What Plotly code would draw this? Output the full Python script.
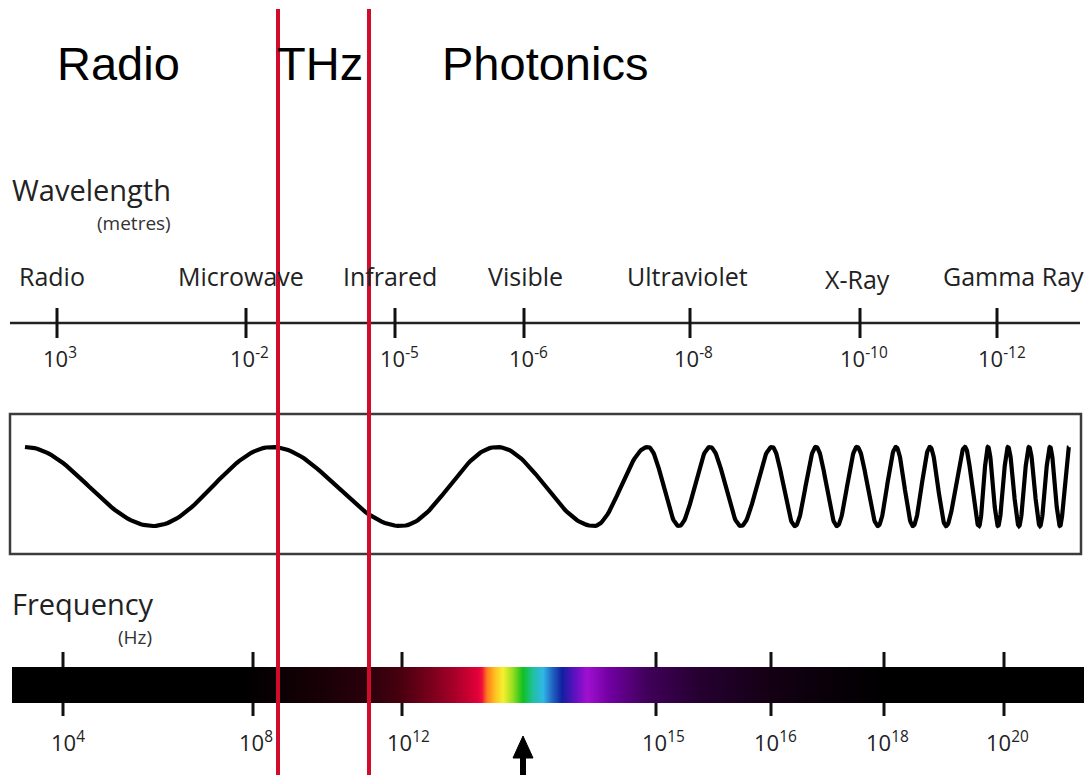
import numpy as np
import plotly.graph_objects as go

# ---------------- data ----------------
region_labels = ["Radio", "THz", "Photonics"]
band_names = ["Radio", "Microwave", "Infrared", "Visible", "Ultraviolet", "X-Ray", "Gamma Ray"]
wavelength_exponents = ["3", "-2", "-5", "-6", "-8", "-10", "-12"]
frequency_exponents = ["4", "8", "12", "15", "16", "18", "20"]

# ---------------- layout positions (pixel space) ----------------
W, H = 1084, 775
region_label_x = [118, 320, 545]
region_label_y = 63
thz_bounds_x = [278, 369]

band_label_x = [52, 241, 390, 525, 687, 857, 1013]
band_label_y = [276, 276, 276, 276, 276, 279, 276]
wl_tick_x = [57, 246, 395, 524, 690, 860, 997]
wl_label_x = [60, 249, 399, 528, 693, 864, 1002]
wl_axis_y = 323

fq_tick_x = [63, 253, 402, 656, 771, 884, 1004]
fq_label_x = [68, 256, 408, 663, 775, 887, 1007]
bar_y0, bar_y1 = 667, 703

# wave illustration: x of successive crests/troughs (starting with a crest)
wave_extrema_x = [25, 153, 272, 401, 497, 594, 648, 679, 710, 741, 772, 795, 816, 837,
                  857, 878, 896, 913, 930, 946, 965, 979, 988, 998, 1008, 1019, 1029,
                  1040, 1050, 1060, 1069]
wave_top, wave_bottom = 447, 526

# spectrum colour stops (pixel x, colour)
spectrum_stops = [
    (12, "#000000"), (245, "#000000"), (275, "#0a0003"), (320, "#170006"),
    (367, "#2a000c"), (401, "#48000f"), (430, "#78001c"), (455, "#a80028"),
    (478, "#e2003a"), (482, "#f0103a"), (487, "#ff7a1c"), (495, "#ffc020"),
    (503, "#f6f030"), (512, "#a0e020"), (523, "#10c020"), (533, "#20c0a0"),
    (543, "#30b8e8"), (553, "#2060c0"), (562, "#1020a0"), (575, "#6010c0"),
    (587, "#a010d0"), (610, "#7000a0"), (647, "#40005a"), (700, "#250030"),
    (770, "#140014"), (850, "#050005"), (887, "#000000"), (1084, "#000000"),
]

fig = go.Figure()

# ---- spectrum bar (heatmap gradient) ----
x0s, x1s = spectrum_stops[0][0], spectrum_stops[-1][0]
colorscale = [[(p - x0s) / (x1s - x0s), c] for p, c in spectrum_stops]
xc = np.arange(x0s + 0.5, x1s, 1.0)
fig.add_trace(go.Heatmap(
    x=xc, y=[bar_y0, bar_y1], z=[xc], colorscale=colorscale,
    zmin=x0s, zmax=x1s, showscale=False, hoverinfo="skip", zsmooth=False,
))

# ---- wave ----
wx, wy = [], []
mid = (wave_top + wave_bottom) / 2
amp = (wave_bottom - wave_top) / 2
for i in range(len(wave_extrema_x) - 1):
    a, b = wave_extrema_x[i], wave_extrema_x[i + 1]
    t = np.linspace(0, 1, 40, endpoint=False)
    c = np.cos(np.pi * t)
    wx.extend(a + (b - a) * t)
    if i % 2 == 0:   # crest -> trough
        wy.extend(mid - amp * c)
    else:            # trough -> crest
        wy.extend(mid + amp * c)
wx.append(wave_extrema_x[-1])
wy.append(wave_top if (len(wave_extrema_x) - 1) % 2 == 0 else wave_bottom)
fig.add_trace(go.Scatter(x=wx, y=wy, mode="lines",
                         line=dict(color="black", width=4.2, shape="linear"),
                         hoverinfo="skip", showlegend=False))

shapes = []
# wave box
shapes.append(dict(type="rect", x0=10, x1=1081, y0=414, y1=554,
                   line=dict(color="#3c3c3c", width=2.5), layer="below"))
# wavelength axis
shapes.append(dict(type="line", x0=10, x1=1080, y0=wl_axis_y, y1=wl_axis_y,
                   line=dict(color="#222222", width=2.5)))
for x in wl_tick_x:
    shapes.append(dict(type="line", x0=x, x1=x, y0=wl_axis_y - 15, y1=wl_axis_y + 15,
                       line=dict(color="#111111", width=3)))
# frequency ticks
for x in fq_tick_x:
    shapes.append(dict(type="line", x0=x, x1=x, y0=652, y1=716,
                       line=dict(color="#111111", width=3), layer="below"))
# arrow
shapes.append(dict(type="line", x0=523, x1=523, y0=752, y1=776,
                   line=dict(color="black", width=6)))
shapes.append(dict(type="path", path="M 513,758 L 523,736 L 533,758 Z",
                   fillcolor="black", line=dict(color="black", width=1)))
# THz boundary lines
for x in thz_bounds_x:
    shapes.append(dict(type="line", x0=x, x1=x, y0=9, y1=780,
                       line=dict(color="#d10b2b", width=4), layer="above"))

ann = []
for lbl, x in zip(region_labels, region_label_x):
    ann.append(dict(x=x, y=region_label_y, text=lbl, showarrow=False,
                    font=dict(family="Liberation Sans, Arial", size=47, color="black"),
                    xanchor="center", yanchor="middle"))

myriad = "Open Sans, Noto Sans, sans-serif"
ann.append(dict(x=10, y=189, text="Wavelength", showarrow=False, xanchor="left",
                yanchor="middle", font=dict(family=myriad, size=29, color="#222")))
ann.append(dict(x=173, y=223, text="(metres)", showarrow=False, xanchor="right",
                yanchor="middle", font=dict(family=myriad, size=19, color="#333")))
ann.append(dict(x=10, y=603, text="Frequency", showarrow=False, xanchor="left",
                yanchor="middle", font=dict(family=myriad, size=29, color="#222")))
ann.append(dict(x=154, y=637, text="(Hz)", showarrow=False, xanchor="right",
                yanchor="middle", font=dict(family=myriad, size=19, color="#333")))

for name, x, y in zip(band_names, band_label_x, band_label_y):
    ann.append(dict(x=x, y=y, text=name, showarrow=False, xanchor="center",
                    yanchor="middle", font=dict(family=myriad, size=25, color="#222")))
for e, x in zip(wavelength_exponents, wl_label_x):
    ann.append(dict(x=x, y=357, text=f"10<sup>{e}</sup>", showarrow=False, xanchor="center",
                    yanchor="middle", font=dict(family=myriad, size=22, color="#222")))
for e, x in zip(frequency_exponents, fq_label_x):
    ann.append(dict(x=x, y=741, text=f"10<sup>{e}</sup>", showarrow=False, xanchor="center",
                    yanchor="middle", font=dict(family=myriad, size=22, color="#222")))

fig.update_layout(
    width=W, height=H, margin=dict(l=0, r=0, t=0, b=0),
    paper_bgcolor="white", plot_bgcolor="white",
    xaxis=dict(range=[0, W], visible=False, fixedrange=True),
    yaxis=dict(range=[H, 0], visible=False, fixedrange=True),
    shapes=shapes, annotations=ann, showlegend=False,
)
fig.write_html("out.html", config={"displayModeBar": False},
               post_script="document.body.style.margin='0px';document.body.style.overflow='hidden';")
